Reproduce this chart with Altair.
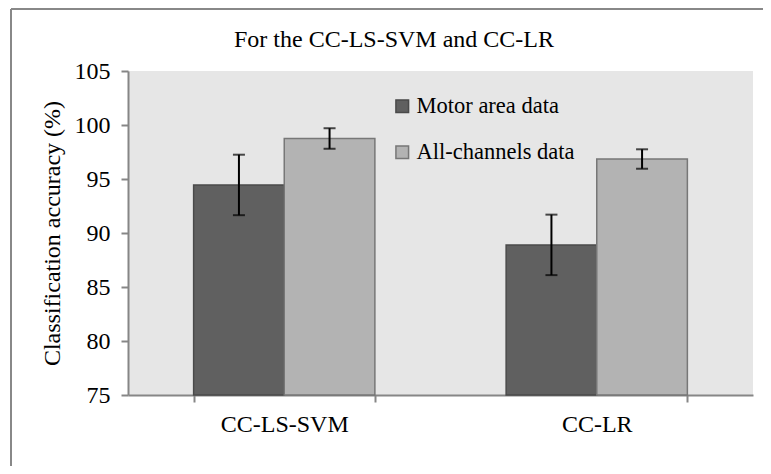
import altair as alt
import pandas as pd

categories = ["CC-LS-SVM", "CC-LR"]
series = ["Motor area data", "All-channels data"]
motor_means = [94.45, 88.9]
motor_err = [2.8, 2.8]
all_means = [98.75, 96.85]
all_err = [0.95, 0.9]
chart_title = "For the CC-LS-SVM and CC-LR"

rows = []
for i, c in enumerate(categories):
    rows.append({"method": c, "series": series[0], "mean": motor_means[i],
                 "lo": motor_means[i] - motor_err[i], "hi": motor_means[i] + motor_err[i]})
    rows.append({"method": c, "series": series[1], "mean": all_means[i],
                 "lo": all_means[i] - all_err[i], "hi": all_means[i] + all_err[i]})
df = pd.DataFrame(rows)

FONT = "Liberation Serif"
FS = 24

x_enc = alt.X("method:N", sort=categories, title=None,
              scale=alt.Scale(paddingInner=0.42, paddingOuter=0.21),
              axis=alt.Axis(labelAngle=0, tickBand="extent", labelFont=FONT, labelFontSize=FS,
                            labelColor="black", labelPadding=10, tickSize=7,
                            domainColor="#868686", tickColor="#868686", domainWidth=2, tickWidth=2))
y_scale = alt.Scale(domain=[75, 105], zero=False, nice=False)
xo = alt.XOffset("series:N", sort=series)

base = alt.Chart(df)

bars = base.mark_bar(strokeWidth=1.5).encode(
    x=x_enc,
    xOffset=xo,
    y=alt.Y("mean:Q", scale=y_scale, stack=None,
            title="Classification accuracy (%)",
            axis=alt.Axis(values=[75, 80, 85, 90, 95, 100, 105], grid=False,
                          labelFont=FONT, labelFontSize=FS, labelColor="black",
                          titleFont=FONT, titleFontSize=FS, titleFontWeight="normal",
                          titleColor="black", titlePadding=10, tickSize=7, labelPadding=11,
                          domainColor="#868686", tickColor="#868686", domainWidth=2, tickWidth=2)),
    y2=alt.datum(75),
    color=alt.Color("series:N", sort=series, title=None,
                    scale=alt.Scale(domain=series, range=["#606060", "#b3b3b3"]),
                    legend=alt.Legend(orient="none", legendX=263, legendY=24,
                                      symbolType="square", symbolSize=160,
                                      labelFont=FONT, labelFontSize=22.5, labelColor="black",
                                      labelLimit=0, rowPadding=23, labelOffset=3, padding=0,
                                      symbolStrokeWidth=1.5)),
    stroke=alt.Stroke("series:N", sort=series, title=None,
                      scale=alt.Scale(domain=series, range=["#4a4a4a", "#777777"])),
)

rule = base.mark_rule(color="black", strokeWidth=2).encode(
    x=alt.X("method:N", sort=categories), xOffset=xo,
    y=alt.Y("lo:Q", scale=y_scale), y2="hi:Q")
tick_lo = base.mark_tick(color="black", thickness=2, size=12, orient="horizontal").encode(
    x=alt.X("method:N", sort=categories), xOffset=xo, y=alt.Y("lo:Q", scale=y_scale))
tick_hi = base.mark_tick(color="black", thickness=2, size=12, orient="horizontal").encode(
    x=alt.X("method:N", sort=categories), xOffset=xo, y=alt.Y("hi:Q", scale=y_scale))

one = pd.DataFrame({"t": [chart_title]})
title_txt = alt.Chart(one).mark_text(font=FONT, fontSize=FS, color="black",
                                     align="center", baseline="middle").encode(
    text="t:N", x=alt.value(266), y=alt.value(-31))

border_top = alt.Chart(one).mark_rule(color="#888888", strokeWidth=2).encode(
    x=alt.value(-117), x2=alt.value(660), y=alt.value(-62))
border_left = alt.Chart(one).mark_rule(color="#888888", strokeWidth=2).encode(
    x=alt.value(-117), y=alt.value(-62), y2=alt.value(420))

chart = alt.layer(bars, rule, tick_lo, tick_hi, title_txt, border_top, border_left).properties(
    width=625, height=324,
    autosize=alt.AutoSizeParams(type="none"),
    padding={"left": 120, "top": 63, "right": 10, "bottom": 71},
    background="white",
).configure_view(strokeWidth=0, fill="#e6e6e6")

chart.save("out.html", embed_options={"renderer": "svg", "actions": False})
